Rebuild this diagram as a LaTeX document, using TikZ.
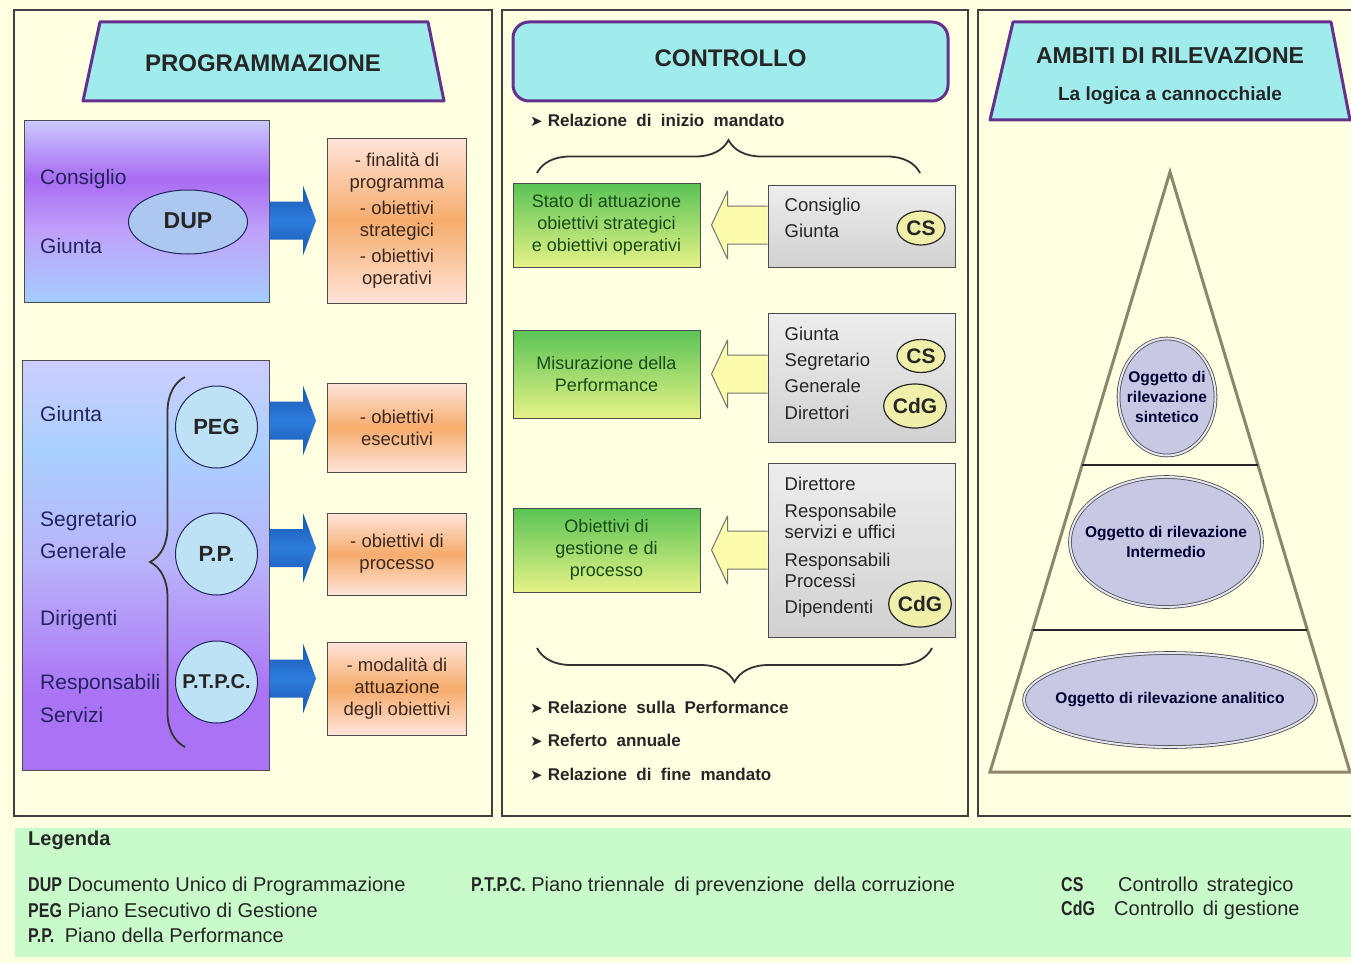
\documentclass[tikz,border=0pt]{standalone}
\usepackage{fontspec}
\setmainfont{Liberation Sans}
\newfontfamily\symfont{DejaVu Sans}
\newfontfamily\narrowfont[FakeStretch=0.8]{Liberation Sans}
\usepackage{tikz}
\usetikzlibrary{positioning, calc, decorations.pathreplacing, shapes.geometric}

\definecolor{cream}{RGB}{255,255,226}
\definecolor{headcyan}{RGB}{160,236,236}
\definecolor{headline}{RGB}{100,50,140}
\definecolor{navytxt}{RGB}{35,35,95}
\definecolor{blueshaft}{RGB}{45,125,220}
\definecolor{bluedark}{RGB}{25,85,175}
\definecolor{orangemid}{RGB}{246,172,108}
\definecolor{orangetop}{RGB}{255,228,218}
\definecolor{browntxt}{RGB}{60,40,30}
\definecolor{circblue}{RGB}{190,226,245}
\definecolor{ellblue}{RGB}{172,200,240}
\definecolor{greentop}{RGB}{90,195,85}
\definecolor{greenbot}{RGB}{230,242,135}
\definecolor{greentxt}{RGB}{25,75,25}
\definecolor{yellowarr}{RGB}{252,252,172}
\definecolor{csfill}{RGB}{240,240,170}
\definecolor{trigray}{RGB}{140,135,105}
\definecolor{ovalfill}{RGB}{200,200,228}
\definecolor{legendgreen}{RGB}{200,250,202}
\definecolor{duptop}{RGB}{202,200,255}
\definecolor{dupviolet}{RGB}{168,108,242}
\definecolor{dupmid}{RGB}{192,160,250}
\definecolor{dupbot}{RGB}{165,205,255}
\definecolor{bigtop}{RGB}{205,205,255}
\definecolor{biglight}{RGB}{170,208,255}
\definecolor{bigmid}{RGB}{185,178,250}
\definecolor{bigviolet}{RGB}{170,115,245}

\pgfdeclareverticalshading{dupshade}{100bp}{color(0bp)=(dupbot); color(25bp)=(dupbot); color(45bp)=(dupmid); color(59bp)=(dupviolet); color(75bp)=(duptop); color(100bp)=(duptop)}
\pgfdeclareverticalshading{orgshade}{100bp}{color(0bp)=(bigviolet); color(25bp)=(bigviolet); color(34bp)=(bigviolet); color(50bp)=(bigmid); color(64bp)=(biglight); color(75bp)=(bigtop); color(100bp)=(bigtop)}

\tikzset{
    panel/.style={draw=black!75, line width=1.2pt, fill=cream},
    headbox/.style={draw=headline, line width=3pt, fill=headcyan, line join=round},
    headtxt/.style={font=\fontsize{24}{28}\selectfont\bfseries, text=black!85},
    rolebox/.style={draw=black!70, line width=1pt, shade, inner sep=0pt},
    roletxt/.style={font=\fontsize{21}{25}\selectfont, text=navytxt, anchor=west, inner sep=0pt},
    plancirc/.style={circle, draw=navytxt, line width=1pt, fill=circblue, minimum size=82pt, inner sep=0pt, font=\fontsize{22}{26}\selectfont\bfseries, text=black!85},
    goalbox/.style={draw=black!70, line width=1pt, top color=orangetop, bottom color=orangetop, middle color=orangemid, minimum width=139pt, align=center, font=\fontsize{18.5}{22}\selectfont, text=browntxt},
    bluearrow/.style={top color=bluedark, bottom color=bluedark, middle color=blueshaft,
        to path={($(\tikztostart)+(0,-19)$) -- ($(\tikztotarget)+(-13,-19)$) -- ($(\tikztotarget)+(-13,-35)$) -- (\tikztotarget) -- ($(\tikztotarget)+(-13,35)$) -- ($(\tikztotarget)+(-13,19)$) -- ($(\tikztostart)+(0,19)$) -- cycle}},
    yellowarrow/.style={fill=yellowarr, draw=black!55, line width=1pt, line join=round,
        to path={($(\tikztostart)+(0,-19)$) -- ($(\tikztotarget)+(16,-19)$) -- ($(\tikztotarget)+(16,-34)$) -- (\tikztotarget) -- ($(\tikztotarget)+(16,34)$) -- ($(\tikztotarget)+(16,19)$) -- ($(\tikztostart)+(0,19)$)}},
    resultbox/.style={draw=black!70, line width=1pt, top color=greentop, bottom color=greenbot, minimum width=187pt, align=center, font=\fontsize{18}{22}\selectfont, text=greentxt},
    actorbox/.style={draw=black!70, line width=1pt, top color=black!7, bottom color=black!18, minimum width=187pt},
    actortxt/.style={anchor=north west, inner sep=0pt, align=left, font=\fontsize{18.5}{21}\selectfont, text=black!85},
    ctrlmark/.style={ellipse, draw=black!85, line width=1.2pt, fill=csfill, inner sep=0pt, font=\fontsize{21}{24}\selectfont\bfseries, text=black!85},
    reltxt/.style={anchor=west, inner sep=0pt, font=\fontsize{17}{20}\selectfont\bfseries, text=black!85},
    bracestyle/.style={decorate, decoration={brace, amplitude=#1}, line width=1.8pt, draw=black!80},
    oval/.style={ellipse, draw=black!70, line width=0.8pt, double=white!55!ovalfill, double distance=2pt, fill=ovalfill, inner sep=0pt},
    ovaltxt/.style={align=center, inner sep=0pt, font=\fontsize{15.5}{20}\selectfont\bfseries, text=black!80!blue},
    legtxt/.style={anchor=west, inner sep=0pt, font=\fontsize{20}{24}\selectfont, text=black!85},
}
\newcommand{\bul}{{\symfont\fontsize{15}{16}\selectfont ➤}\hspace{5pt}}
\newcommand{\wsp}{\hspace{0.55em}}

\begin{document}
\begin{tikzpicture}[x=1pt,y=-1pt]
\useasboundingbox (0,0) rectangle (1351,963);
\fill[cream] (0,0) rectangle (1351,963);

\draw[panel] (14,10) rectangle (492,816);
\draw[panel] (502,10) rectangle (968,816);
\draw[panel] (978,10) rectangle (1358,816);
\fill[legendgreen] (15,828) rectangle (1351,957);

% programmazione
\draw[headbox] (100,22) -- (428,22) -- (444,101) -- (83,101) -- cycle;
\node[headtxt] (progtitle) at (263,63) {PROGRAMMAZIONE};

\node[rolebox, shading=dupshade, minimum width=245pt, minimum height=181pt] (dupbox) at (146.5,211.5) {};
\node[roletxt] (cons) at (40,179) {Consiglio};
\node[roletxt] (giu1) at (40,246) {Giunta};
\node[ellipse, draw=navytxt, line width=1pt, fill=ellblue, minimum width=119pt, minimum height=64pt, inner sep=0pt, font=\fontsize{23}{26}\selectfont\bfseries, text=black!85] (dup) at (188,222) {\raisebox{3pt}{DUP}};
\node[goalbox, minimum height=165pt] (finbox) at (397,220.5) {- finalità di\\programma\\[4pt]- obiettivi\\strategici\\[4pt]- obiettivi\\operativi};
\shade[bluearrow] (dupbox.east |- finbox.west) to ($(finbox.west)+(-11,0)$);

\node[rolebox, shading=orgshade, minimum width=247pt, minimum height=410pt] (orgbox) at (145.5,565) {};
\node[roletxt] (giu2) at (40,414) {Giunta};
\node[roletxt] (segr) at (40,521) {Segretario};
\node[roletxt] (gen) at (40,551) {Generale};
\node[roletxt] (dirig) at (40,620) {Dirigenti};
\node[roletxt] (resp) at (40,684) {Responsabili};
\node[roletxt] (serv) at (40,715) {Servizi};
\draw[bracestyle=35pt] (185,747) -- (185,377);
\node[plancirc] (peg) at (216.5,427) {PEG};
\node[plancirc] (pp) at (216.5,554) {P.P.};
\node[plancirc, font=\fontsize{20}{24}\selectfont\bfseries] (ptpc) at (216.5,682) {P.T.P.C.};

\node[goalbox, minimum height=89pt] (esebox) at (397,427.5) {- obiettivi\\esecutivi};
\node[goalbox, minimum height=82pt] (procbox) at (397,554) {- obiettivi di\\processo};
\node[goalbox, minimum height=93pt] (modbox) at (397,688.5) {- modalità di\\attuazione\\degli obiettivi};
\shade[bluearrow] ($(orgbox.east |- esebox.west)+(0,-7)$) to ($(esebox.west)+(-11,-7)$);
\shade[bluearrow] ($(orgbox.east |- procbox.west)+(0,-6)$) to ($(procbox.west)+(-11,-6)$);
\shade[bluearrow] ($(orgbox.east |- modbox.west)+(0,-10)$) to ($(modbox.west)+(-11,-10)$);

% controllo
\node[headbox, rounded corners=16pt, minimum width=435pt, minimum height=79pt, headtxt] (ctrltitle) at (730.5,61.5) {\raisebox{6pt}{CONTROLLO}};
\node[reltxt] (relinizio) at (530,120) {\bul Relazione\wsp di\wsp inizio\wsp mandato};
\draw[bracestyle=33pt] (537,173) -- (920,173);

\node[resultbox, minimum height=84pt] (statobox) at (606.5,225) {Stato di attuazione\\obiettivi strategici\\e obiettivi operativi};
\node[resultbox, minimum height=88pt] (misbox) at (606.5,374) {Misurazione della\\Performance};
\node[resultbox, minimum height=84pt] (gestbox) at (606.5,550) {Obiettivi di\\gestione e di\\processo};

\node[actorbox, minimum height=82pt] (sg1) at (861.5,226) {};
\node[actorbox, minimum height=129pt] (sg2) at (861.5,377.5) {};
\node[actorbox, minimum height=174pt] (sg3) at (861.5,550) {};
\node[actortxt] (sg1txt) at ($(sg1.north west)+(17,13)$) {Consiglio\\[5pt]Giunta};
\node[actortxt] (sg2txt) at ($(sg2.north west)+(17,14)$) {Giunta\\[5pt]Segretario\\[5pt]Generale\\[6pt]Direttori};
\node[actortxt] (sg3txt) at ($(sg3.north west)+(17,14)$) {Direttore\\[6pt]Responsabile\\servizi e uffici\\[7pt]Responsabili\\Processi\\[5pt]Dipendenti};
\node[ctrlmark, minimum width=48pt, minimum height=34pt] (cs1) at (921,228) {CS};
\node[ctrlmark, minimum width=48pt, minimum height=33pt] (cs2) at (921,356) {CS};
\node[ctrlmark, minimum width=60pt, minimum height=44pt] (cdg2) at (915,406) {CdG};
\node[ctrlmark, minimum width=60pt, minimum height=46pt] (cdg3) at (920,604) {CdG};

\draw[yellowarrow] (sg1.west |- statobox.east) to ($(statobox.east)+(11,0)$);
\draw[yellowarrow] (sg2.west |- misbox.east) to ($(misbox.east)+(11,0)$);
\draw[yellowarrow] (sg3.west |- gestbox.east) to ($(gestbox.east)+(11,0)$);

\draw[bracestyle=34pt] (932,648) -- (537,648);
\node[reltxt] (relperf) at (530,707) {\bul Relazione\wsp sulla\wsp Performance};
\node[reltxt] (referto) at (530,740) {\bul Referto\wsp annuale};
\node[reltxt] (relfine) at (530,774) {\bul Relazione\wsp di\wsp fine\wsp mandato};

% ambiti di rilevazione
\draw[headbox] (1013,22) -- (1331,22) -- (1350,120) -- (990,120) -- cycle;
\node[headtxt, font=\fontsize{23}{27}\selectfont\bfseries] (ambtitle) at (1170,56) {AMBITI DI RILEVAZIONE};
\node[headtxt, font=\fontsize{19}{23}\selectfont\bfseries] (ambsub) at (1170,96) {La logica a cannocchiale};

\draw[draw=trigray, line width=3pt, line join=miter] (1170,172) coordinate (apex) -- (1350,772) coordinate (br) -- (990,772) coordinate (bl) -- cycle;
\draw[black!85, line width=1.2pt] ($(apex)!0.4883!(bl)$) -- ($(apex)!0.4883!(br)$);
\draw[black!85, line width=1.2pt] ($(apex)!0.7633!(bl)$) -- ($(apex)!0.7633!(br)$);

\node[oval, minimum width=97pt, minimum height=117pt] (sintetico) at (1167,397) {};
\node[ovaltxt] (sintxt) at (sintetico) {Oggetto di\\rilevazione\\sintetico};
\node[oval, minimum width=192pt, minimum height=130pt] (intermedio) at (1166,542) {};
\node[ovaltxt] (intxt) at (intermedio) {Oggetto di rilevazione\\Intermedio};
\node[oval, minimum width=292pt, minimum height=94pt] (analitico) at (1170,700) {};
\node[ovaltxt] (antxt) at (analitico) {Oggetto di rilevazione analitico};

% legenda
\node[legtxt, font=\fontsize{20}{24}\selectfont\bfseries] (lgtitle) at (28,840) {Legenda};
\node[legtxt] (lgdup) at (28,886) {{\narrowfont\bfseries DUP} Documento Unico di Programmazione};
\node[legtxt] (lgpeg) at (28,910) {{\narrowfont\bfseries PEG} Piano Esecutivo di Gestione};
\node[legtxt] (lgpp) at (28,935) {{\narrowfont\bfseries P.P.}\hspace{5pt} Piano della Performance};
\node[legtxt] (lgptpc) at (471,886) {{\narrowfont\bfseries P.T.P.C.} Piano triennale\hspace{4pt} di prevenzione\hspace{4pt} della corruzione};
\node[legtxt] (lgcs) at (1061,886) {\makebox[57pt][l]{\narrowfont\bfseries CS}Controllo\hspace{3pt} strategico};
\node[legtxt] (lgcdg) at (1061,910) {\makebox[53pt][l]{\narrowfont\bfseries CdG}Controllo\hspace{3pt} di gestione};
\end{tikzpicture}
\end{document}
